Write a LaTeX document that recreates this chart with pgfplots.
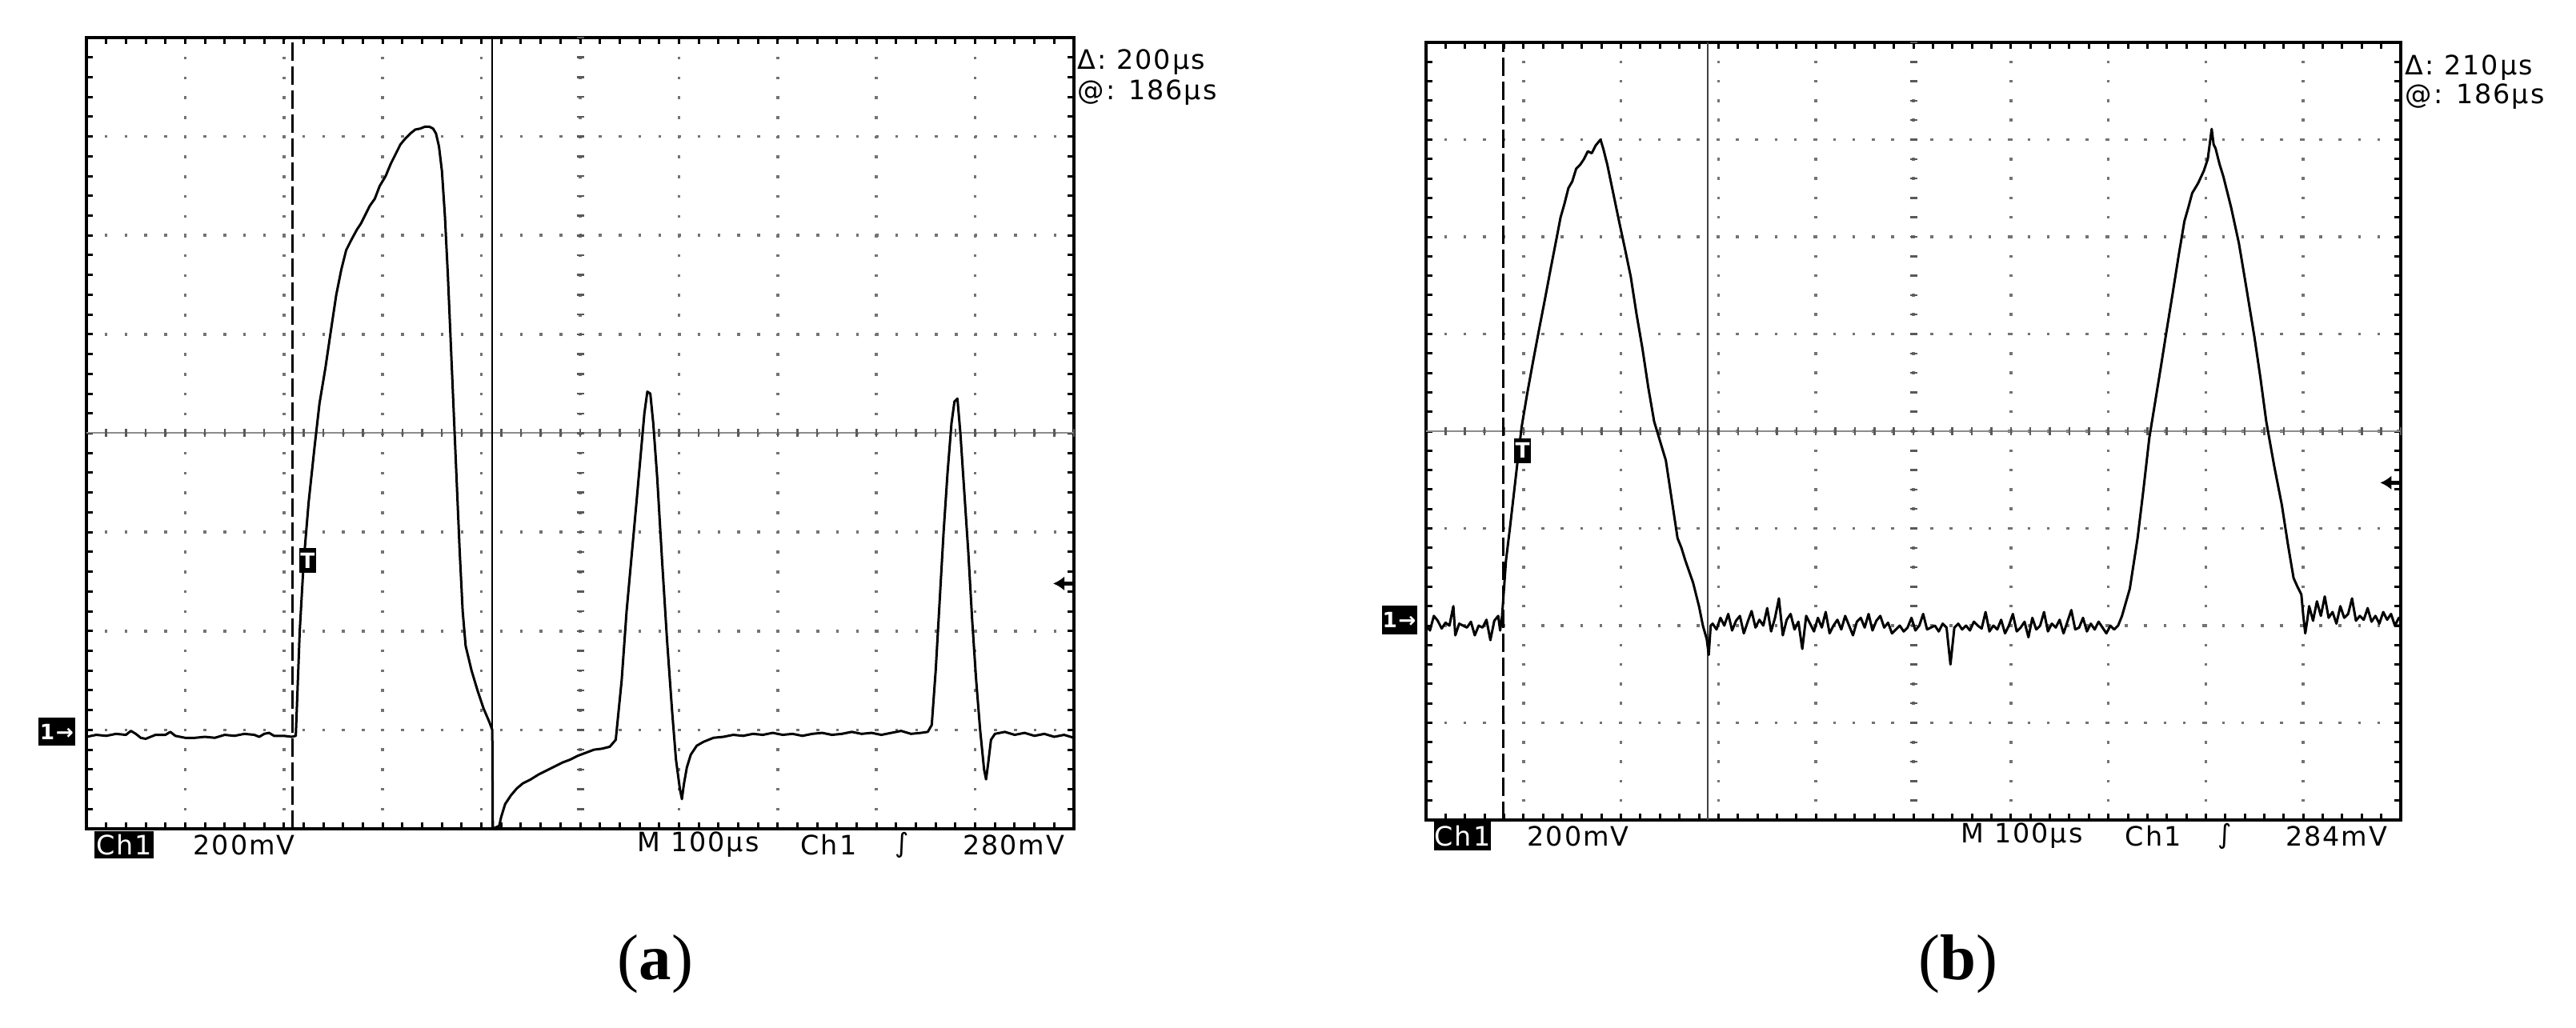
\documentclass[border=0pt]{standalone}
\usepackage{pgfplots}
\pgfplotsset{compat=1.18}
\usepackage{fontspec}
\setmainfont{Liberation Serif}
\newfontfamily\scopefont[LetterSpace=6]{DejaVu Sans}
\usetikzlibrary{arrows.meta}
\newcommand\scf{\scopefont\fontsize{9.5pt}{10pt}\selectfont}
\newcommand\scs{\scopefont\fontsize{7.5pt}{8pt}\selectfont\bfseries}

\tikzset{ctick/.style={black!65, line width=0.25mm}}
\pgfplotsset{
  scopeaxis/.style={
    scale only axis,
    anchor=south west,
    xmin=0, xmax=10, ymin=0, ymax=8,
    xtick={0,...,10}, ytick={0,...,8},
    minor x tick num=4, minor y tick num=4,
    xticklabels={}, yticklabels={},
    tick align=inside,
    xtick pos=both, ytick pos=both,
    major tick length=0.8mm, minor tick length=0.8mm,
    tick style={black, line width=0.3mm},
    minor tick style={black, line width=0.3mm},
    axis line style={black, line width=0.4mm},
    grid=major,
    clip=false,
  },
  trace/.style={black, line width=0.3mm, line join=round, mark=none},
}

\begin{document}
\begin{tikzpicture}
\useasboundingbox (0,0) rectangle (321.9mm,128.4mm);

% ---------------- panel (a) ----------------
\begin{axis}[scopeaxis, at={(10.8mm,24.8mm)}, width=123.4mm, height=98.9mm,
  major grid style={black!55, line width=0.35mm, line cap=butt, dash pattern=on 0.35mm off 2.12mm, dash phase=0.175mm}]
\draw[black!45, line width=0.2mm] (axis cs:0,4) -- (axis cs:10,4);
\pgfplotsinvokeforeach{0.2,0.4,...,9.9}{\draw[ctick] (axis cs:#1,4) ++(0,-0.5mm) -- ++(0,1.0mm);}
\pgfplotsinvokeforeach{0.2,0.4,...,7.9}{\draw[ctick] (axis cs:5,#1) ++(-0.45mm,0) -- ++(0.9mm,0);}
\draw[black, line width=0.3mm, dash pattern=on 2.3mm off 0.7mm] (axis cs:2.09,0) -- (axis cs:2.09,8);
\draw[black, line width=0.25mm] (axis cs:4.11,0) -- (axis cs:4.11,8);
\addplot[trace] coordinates {
(0,0.93) (0.1,0.95) (0.2,0.94) (0.3,0.96) (0.4,0.95) (0.45,0.99) (0.5,0.96) (0.55,0.92) (0.6,0.91) (0.7,0.95)
(0.8,0.95) (0.85,0.98) (0.9,0.94) (1.0,0.92) (1.1,0.92) (1.2,0.93) (1.3,0.92) (1.4,0.95) (1.5,0.94) (1.6,0.96)
(1.7,0.95) (1.75,0.93) (1.8,0.96) (1.85,0.97) (1.9,0.94) (2.0,0.94) (2.08,0.93) (2.12,0.94)
(2.13,1.2) (2.16,2.0) (2.20,2.7) (2.25,3.3) (2.31,3.86) (2.36,4.3) (2.42,4.66) (2.47,5.0) (2.53,5.4) (2.58,5.65)
(2.63,5.85) (2.68,5.95) (2.74,6.06) (2.78,6.12) (2.82,6.2) (2.87,6.3) (2.92,6.37) (2.97,6.5) (3.03,6.6) (3.08,6.72)
(3.13,6.82) (3.18,6.92) (3.23,6.98) (3.28,7.03) (3.33,7.07) (3.38,7.08) (3.43,7.1) (3.47,7.1) (3.51,7.08) (3.54,7.03)
(3.57,6.9) (3.60,6.65) (3.63,6.2) (3.66,5.6) (3.69,4.9) (3.72,4.2) (3.75,3.5) (3.78,2.8) (3.81,2.2) (3.84,1.85)
(3.90,1.6) (3.96,1.4) (4.02,1.22) (4.08,1.08) (4.11,1.0) (4.115,0.0)
(4.18,0.03) (4.2,0.12) (4.24,0.25) (4.3,0.34) (4.36,0.41) (4.42,0.46) (4.5,0.5) (4.58,0.55) (4.66,0.59) (4.74,0.63)
(4.82,0.67) (4.9,0.7) (4.98,0.74) (5.06,0.77) (5.14,0.8) (5.22,0.81) (5.3,0.83) (5.36,0.9) (5.42,1.5) (5.47,2.2)
(5.52,2.75) (5.57,3.3) (5.61,3.75) (5.65,4.2) (5.68,4.42) (5.71,4.4) (5.74,4.1) (5.78,3.55) (5.83,2.7) (5.88,1.9)
(5.93,1.2) (5.97,0.7) (6.01,0.4) (6.03,0.3) (6.05,0.45) (6.08,0.62) (6.12,0.75) (6.18,0.84) (6.25,0.88)
(6.35,0.92) (6.45,0.93) (6.55,0.95) (6.65,0.94) (6.75,0.96) (6.85,0.95) (6.95,0.97) (7.05,0.95) (7.15,0.96) (7.25,0.94)
(7.35,0.96) (7.45,0.97) (7.55,0.95) (7.65,0.96) (7.75,0.98) (7.85,0.96) (7.95,0.97) (8.05,0.95) (8.15,0.97) (8.25,0.99)
(8.35,0.96) (8.45,0.97) (8.52,0.98)
(8.56,1.05) (8.60,1.6) (8.64,2.3) (8.68,3.0) (8.72,3.6) (8.76,4.1) (8.79,4.32) (8.82,4.35) (8.85,4.0) (8.89,3.4)
(8.93,2.8) (8.97,2.1) (9.01,1.5) (9.05,1.0) (9.09,0.6) (9.11,0.5) (9.13,0.65) (9.16,0.9) (9.2,0.96)
(9.3,0.98) (9.4,0.95) (9.5,0.97) (9.6,0.94) (9.7,0.96) (9.8,0.93) (9.9,0.95) (10,0.92)
};
\node[fill=black, text=white, inner sep=0pt, minimum width=2.1mm, minimum height=3.1mm, font=\scs] at (axis cs:2.24,2.71) {T};
\node[fill=black, text=white, inner sep=0pt, minimum width=4.6mm, minimum height=3.5mm, font=\scs] at (axis cs:-0.30,0.98) {1→};
\draw[-{Latex[length=1.4mm,width=1.8mm]}, line width=0.45mm] (axis cs:9.98,2.48) -- (axis cs:9.79,2.48);
\end{axis}

\node[anchor=west, inner sep=0pt, font=\scf] at (134.6mm,120.6mm) {Δ: 200µs};
\node[anchor=west, inner sep=0pt, font=\scf] at (134.6mm,116.8mm) {@: 186µs};
\node[fill=black, text=white, inner sep=0pt, minimum width=7.4mm, minimum height=3.4mm, font=\scf] at (15.5mm,22.8mm) {Ch1};
\node[anchor=west, inner sep=0pt, font=\scf] at (24.1mm,22.8mm) {200mV};
\node[anchor=west, inner sep=0pt, font=\scf] at (79.6mm,22.8mm) {M 100µs};
\node[anchor=west, inner sep=0pt, font=\scf] at (100.0mm,22.8mm) {Ch1};
\node[inner sep=0pt, font=\scf] at (112.7mm,22.8mm) {∫};
\node[anchor=east, inner sep=0pt, font=\scf] at (133.1mm,22.8mm) {280mV};
\node[font=\fontsize{23pt}{26pt}\selectfont] at (81.9mm,7.9mm) {(\textbf{a})};

% ---------------- panel (b) ----------------
\begin{axis}[scopeaxis, at={(178.2mm,25.9mm)}, width=121.8mm, height=97.2mm,
  major grid style={black!55, line width=0.35mm, line cap=butt, dash pattern=on 0.35mm off 2.08mm, dash phase=0.175mm}]
\draw[black!45, line width=0.2mm] (axis cs:0,4) -- (axis cs:10,4);
\pgfplotsinvokeforeach{0.2,0.4,...,9.9}{\draw[ctick] (axis cs:#1,4) ++(0,-0.5mm) -- ++(0,1.0mm);}
\pgfplotsinvokeforeach{0.2,0.4,...,7.9}{\draw[ctick] (axis cs:5,#1) ++(-0.45mm,0) -- ++(0.9mm,0);}
\draw[black, line width=0.3mm, dash pattern=on 2.3mm off 0.7mm] (axis cs:0.79,0) -- (axis cs:0.79,8);
\draw[black!75, line width=0.25mm] (axis cs:2.89,0) -- (axis cs:2.89,8);
\addplot[trace] coordinates {
(0,2.0) (0.04,1.95) (0.08,2.1) (0.12,2.05) (0.16,1.97) (0.2,2.03) (0.24,2.0) (0.28,2.2) (0.30,1.9) (0.34,2.02)
(0.38,2.0) (0.42,1.98) (0.46,2.04) (0.5,1.9) (0.54,2.0) (0.58,1.98) (0.62,2.06) (0.66,1.85) (0.7,2.05) (0.74,2.1)
(0.76,1.95)
(0.78,2.1) (0.82,2.67) (0.86,3.0) (0.90,3.35) (0.94,3.7) (0.98,4.04) (1.04,4.4) (1.10,4.73) (1.16,5.05) (1.22,5.36)
(1.28,5.68) (1.34,5.99) (1.38,6.2) (1.42,6.34) (1.46,6.5) (1.50,6.57) (1.54,6.7) (1.58,6.74) (1.62,6.8) (1.66,6.88)
(1.70,6.86) (1.74,6.94) (1.79,7.0) (1.82,6.9) (1.86,6.74) (1.92,6.45) (1.98,6.16) (2.04,5.88) (2.10,5.59) (2.16,5.2)
(2.22,4.85) (2.28,4.45) (2.34,4.1) (2.40,3.9) (2.46,3.7) (2.52,3.3) (2.58,2.9) (2.62,2.8) (2.66,2.67) (2.74,2.44)
(2.80,2.2) (2.84,2.0) (2.88,1.86) (2.90,1.7) (2.92,2.0)
(2.94,2.02) (2.98,1.96) (3.02,2.08) (3.06,2.00) (3.10,2.12) (3.14,1.95) (3.18,2.05) (3.22,2.10) (3.26,1.92) (3.30,2.04)
(3.34,2.15) (3.38,1.98) (3.42,2.06) (3.46,2.00) (3.50,2.18) (3.54,1.94) (3.58,2.08) (3.62,2.28) (3.66,1.90) (3.70,2.06)
(3.74,2.12) (3.78,1.96) (3.82,2.04) (3.86,1.76) (3.90,2.10) (3.94,2.02) (3.98,1.94) (4.02,2.08) (4.06,1.98) (4.10,2.14)
(4.14,1.92) (4.18,2.00) (4.22,2.06) (4.26,1.96) (4.30,2.10) (4.34,2.00) (4.38,1.90) (4.42,2.04) (4.46,2.08) (4.50,1.98)
(4.54,2.12) (4.58,1.95) (4.62,2.05) (4.66,2.10) (4.70,1.98) (4.74,2.03) (4.78,1.92) (4.82,1.96) (4.86,2.00) (4.90,1.94)
(4.94,1.98) (4.98,2.08) (5.02,1.95) (5.06,2.00) (5.10,2.12) (5.14,1.96) (5.18,1.98) (5.22,2.00) (5.26,1.94) (5.30,2.02)
(5.34,1.98) (5.38,1.60) (5.42,1.98) (5.46,2.02) (5.50,1.96) (5.54,2.00) (5.58,1.95) (5.62,2.04) (5.66,2.00) (5.70,1.97)
(5.74,2.14) (5.78,1.94) (5.82,2.00) (5.86,1.96) (5.90,2.06) (5.94,1.92) (5.98,2.00) (6.02,2.12) (6.06,1.94) (6.10,1.98)
(6.14,2.04) (6.18,1.88) (6.22,2.08) (6.26,1.96) (6.30,2.00) (6.34,2.14) (6.38,1.94) (6.42,2.02) (6.46,1.98) (6.50,2.06)
(6.54,1.92) (6.58,2.04) (6.62,2.16) (6.66,1.96) (6.70,1.98) (6.74,2.08) (6.78,1.94) (6.82,2.02) (6.86,1.96) (6.90,2.04)
(6.94,1.98) (6.98,1.92) (7.02,2.00) (7.06,1.96)
(7.10,2.0) (7.14,2.1) (7.22,2.38) (7.30,2.9) (7.36,3.4) (7.42,3.93) (7.48,4.3) (7.54,4.67) (7.60,5.05) (7.66,5.42)
(7.72,5.8) (7.78,6.16) (7.82,6.3) (7.86,6.45) (7.92,6.55) (7.98,6.68) (8.02,6.8) (8.06,7.11) (8.08,6.95) (8.10,6.91)
(8.14,6.75) (8.18,6.62) (8.26,6.3) (8.34,5.93) (8.42,5.45) (8.50,4.96) (8.56,4.55) (8.62,4.1) (8.70,3.65) (8.78,3.24)
(8.84,2.85) (8.90,2.49) (8.94,2.4) (8.98,2.32) (9.00,2.1) (9.02,1.92) (9.04,2.05) (9.06,2.2)
(9.10,2.05) (9.14,2.25) (9.18,2.10) (9.22,2.30) (9.26,2.08) (9.30,2.14) (9.34,2.02) (9.38,2.20) (9.42,2.08) (9.46,2.12)
(9.50,2.28) (9.54,2.05) (9.58,2.10) (9.62,2.06) (9.66,2.18) (9.70,2.04) (9.74,2.10) (9.78,2.02) (9.82,2.14) (9.86,2.06)
(9.90,2.12) (9.94,2.00) (9.98,2.08) (10,2.06)
};
\node[fill=black, text=white, inner sep=0pt, minimum width=2.1mm, minimum height=3.1mm, font=\scs] at (axis cs:0.99,3.8) {T};
\node[fill=black, text=white, inner sep=0pt, minimum width=4.4mm, minimum height=3.6mm, font=\scs] at (axis cs:-0.275,2.06) {1→};
\draw[-{Latex[length=1.4mm,width=1.8mm]}, line width=0.45mm] (axis cs:9.98,3.47) -- (axis cs:9.79,3.47);
\end{axis}

\node[anchor=west, inner sep=0pt, font=\scf] at (300.5mm,119.9mm) {Δ: 210µs};
\node[anchor=west, inner sep=0pt, font=\scf] at (300.5mm,116.3mm) {@: 186µs};
\node[fill=black, text=white, inner sep=0pt, minimum width=7.1mm, minimum height=3.6mm, font=\scf] at (182.75mm,23.9mm) {Ch1};
\node[anchor=west, inner sep=0pt, font=\scf] at (190.8mm,23.9mm) {200mV};
\node[anchor=west, inner sep=0pt, font=\scf] at (245.0mm,23.9mm) {M 100µs};
\node[anchor=west, inner sep=0pt, font=\scf] at (265.5mm,23.9mm) {Ch1};
\node[inner sep=0pt, font=\scf] at (278.0mm,23.9mm) {∫};
\node[anchor=east, inner sep=0pt, font=\scf] at (298.4mm,23.9mm) {284mV};
\node[font=\fontsize{23pt}{26pt}\selectfont] at (244.7mm,7.9mm) {(\textbf{b})};
\end{tikzpicture}
\end{document}
